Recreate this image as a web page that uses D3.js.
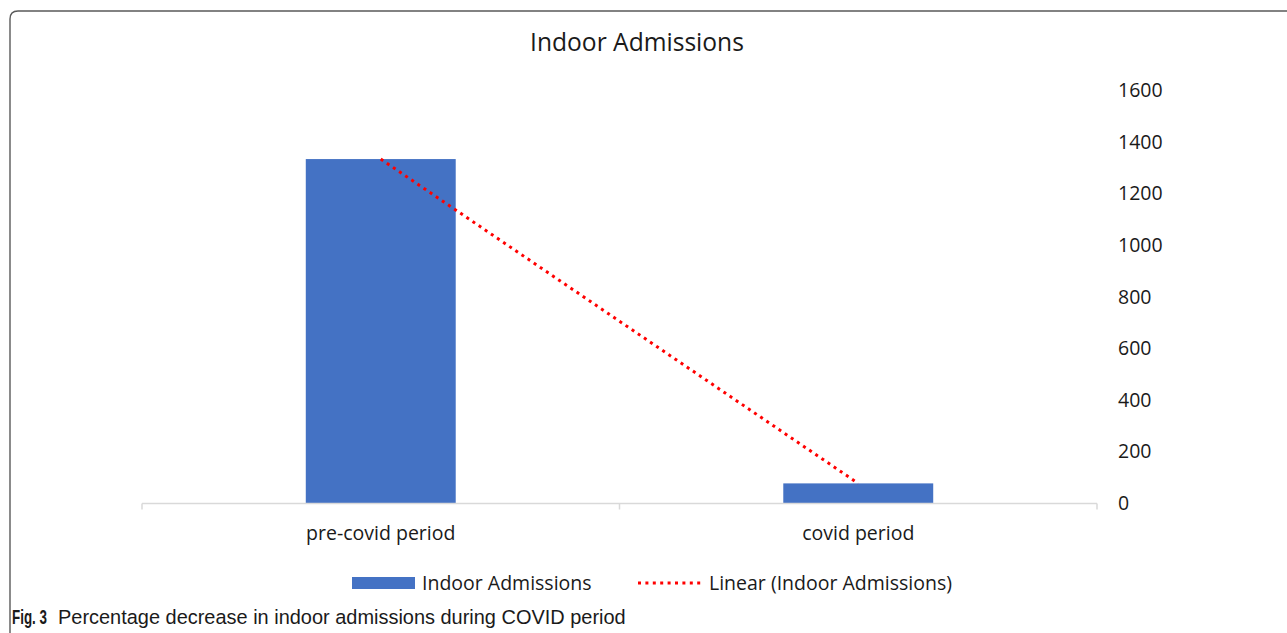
<!DOCTYPE html>
<html>
<head>
<meta charset="utf-8">
<script src="https://cdn.jsdelivr.net/npm/d3@7/dist/d3.min.js"></script>
<style>
  html, body { margin: 0; padding: 0; background: #fff; }
  svg { display: block; }
  text { font-family: "Open Sans", "Noto Sans", sans-serif; fill: #1a1a1a; }
</style>
</head>
<body>
<svg id="chart" width="1287" height="633"></svg>
<script>
// Indoor admissions before and during the COVID period
const categories = ["pre-covid period", "covid period"];
const admissions = [1336, 78];
const yTicks = [0, 200, 400, 600, 800, 1000, 1200, 1400, 1600];
const chartTitle = "Indoor Admissions";
const seriesName = "Indoor Admissions";
const trendName = "Linear (Indoor Admissions)";
const captionLead = "Fig. 3";
const captionText = "Percentage decrease in indoor admissions during COVID period";

const svg = d3.select("#chart");
const W = 1287, H = 633;
const labelSize = "19.5px";

const plot = { left: 142, right: 1097, top: 91, bottom: 503.5 };

// Figure frame with rounded corner
svg.append("path")
  .attr("d", `M10,${H + 5} L10,19 Q10,11 18,11 L${W + 5},11`)
  .attr("fill", "none")
  .attr("stroke", "#5a5a5a")
  .attr("stroke-width", 1.4);

// Scales
const xOuter = d3.scaleBand().domain(categories).range([plot.left, plot.right]).padding(0);
const xBar = d3.scaleBand().domain(categories).range([plot.left, plot.right])
  .paddingInner(0.686).paddingOuter(0.343);
const y = d3.scaleLinear().domain([0, 1600]).range([plot.bottom, plot.top]);

// Title
svg.append("text")
  .attr("x", 637).attr("y", 51)
  .attr("text-anchor", "middle")
  .style("font-size", "24.6px")
  .text(chartTitle);

// Bars
svg.append("g").selectAll("rect")
  .data(categories.map((c, i) => ({ c, v: admissions[i] })))
  .join("rect")
  .attr("x", d => xBar(d.c))
  .attr("width", xBar.bandwidth())
  .attr("y", d => y(d.v))
  .attr("height", d => y(0) - y(d.v))
  .attr("fill", "#4472c4");

// Category axis line and boundary ticks
const axisG = svg.append("g");
axisG.append("line")
  .attr("x1", plot.left).attr("x2", plot.right)
  .attr("y1", y(0)).attr("y2", y(0))
  .attr("stroke", "#d9d9d9").attr("stroke-width", 1.5);
const bounds = categories.map(c => xOuter(c)).concat([plot.right]);
axisG.selectAll("line.tick")
  .data(bounds)
  .join("line")
  .attr("class", "tick")
  .attr("x1", d => d).attr("x2", d => d)
  .attr("y1", y(0)).attr("y2", y(0) + 6)
  .attr("stroke", "#d9d9d9").attr("stroke-width", 1.5);

const xAxis = d3.axisBottom(xOuter).tickSize(0).tickPadding(0);
svg.append("g")
  .attr("transform", `translate(0,${y(0)})`)
  .call(xAxis)
  .call(g => g.select(".domain").remove())
  .call(g => g.selectAll("text")
    .attr("dy", null)
    .attr("y", 36)
    .style("font-size", labelSize)
    .style("font-family", "'Open Sans', sans-serif")
    .attr("fill", "#1a1a1a"));

// Value axis on the right
const yAxis = d3.axisRight(y).tickValues(yTicks).tickFormat(d3.format("d")).tickSize(0).tickPadding(0);
svg.append("g")
  .attr("transform", "translate(1118,0)")
  .call(yAxis)
  .call(g => g.select(".domain").remove())
  .call(g => g.selectAll("text")
    .attr("dy", "0.3em")
    .style("font-size", labelSize)
    .style("font-family", "'Open Sans', sans-serif")
    .attr("fill", "#1a1a1a"));

// Linear trendline (least squares over category index)
const xs = admissions.map((_, i) => i + 1);
const mx = d3.mean(xs), my = d3.mean(admissions);
const slope = d3.sum(xs.map((xv, i) => (xv - mx) * (admissions[i] - my))) /
              d3.sum(xs.map(xv => (xv - mx) ** 2));
const intercept = my - slope * mx;
const trend = xs.map((xv, i) => ({ px: xOuter(categories[i]) + xOuter.bandwidth() / 2, v: intercept + slope * xv }));

svg.append("path")
  .datum(trend)
  .attr("d", d3.line().x(d => d.px).y(d => y(d.v)))
  .attr("fill", "none")
  .attr("stroke", "#ff0000")
  .attr("stroke-width", 3)
  .attr("stroke-dasharray", "3 4.4");

// Legend
const lg = svg.append("g");
lg.append("rect")
  .attr("x", 352).attr("y", 577).attr("width", 63).attr("height", 12)
  .attr("fill", "#4472c4");
lg.append("text")
  .attr("x", 422).attr("y", 590)
  .style("font-size", labelSize)
  .text(seriesName);
lg.append("line")
  .attr("x1", 638).attr("x2", 704).attr("y1", 583).attr("y2", 583)
  .attr("stroke", "#ff0000").attr("stroke-width", 3)
  .attr("stroke-dasharray", "3 4.4");
lg.append("text")
  .attr("x", 709).attr("y", 590)
  .style("font-size", labelSize)
  .text(trendName);

// Caption in a condensed setting: each piece is squeezed horizontally to its span
function condensed(x, baseline, width, str, weight, size) {
  const g = svg.append("g");
  const t = g.append("text")
    .attr("x", 0).attr("y", 0)
    .style("font-family", "'Liberation Sans', sans-serif")
    .style("font-weight", weight)
    .style("font-size", size)
    .text(str);
  const natural = t.node().getComputedTextLength();
  g.attr("transform", `translate(${x},${baseline}) scale(${width / natural},1)`);
}
condensed(12, 624, 35, captionLead, "bold", "21px");
condensed(58, 624, 568, captionText, "normal", "20.5px");
</script>
</body>
</html>
